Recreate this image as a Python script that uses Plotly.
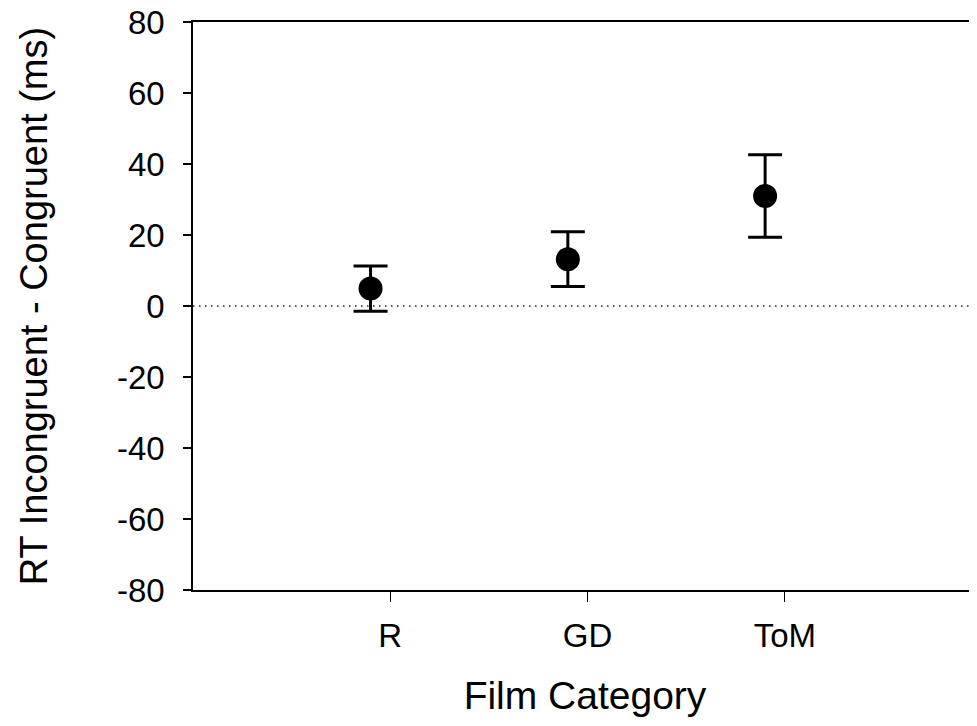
import plotly.graph_objects as go

categories = ["R", "GD", "ToM"]
tick_pos = [1, 2, 3]
point_pos = [0.9, 1.9, 2.9]
means = [4.9, 13.2, 31.0]
errors = [6.4, 7.7, 11.6]
y_ticks = [-80, -60, -40, -20, 0, 20, 40, 60, 80]
y_tick_text = ["-80", "-60", "-40", "-20", "0", "20", "40", "60", "80"]

fig = go.Figure()
fig.add_trace(go.Scatter(
    x=point_pos, y=means, mode="markers",
    marker=dict(size=24, color="black"),
    error_y=dict(type="data", array=errors, visible=True, color="black",
                 thickness=3, width=17),
    showlegend=False, hoverinfo="skip",
))

fig.add_shape(type="line", xref="paper", yref="y", x0=0, x1=1, y0=0, y1=0,
              line=dict(color="#222222", width=1.3, dash="1.5px,4.5px"), layer="below")

font = "Liberation Sans, Arial, sans-serif"
fig.update_layout(
    width=969, height=718,
    margin=dict(l=185, r=0, t=14, b=136),
    plot_bgcolor="white", paper_bgcolor="white",
    font=dict(family=font, color="black", size=33),
    xaxis=dict(range=[0, 3.974], tickvals=tick_pos, ticktext=categories,
               showline=True, linecolor="black", linewidth=1.5, mirror=True,
               ticks="outside", ticklen=10, tickwidth=1.2, tickcolor="black",
               showgrid=False, zeroline=False, tickfont=dict(size=33),
               ticklabelstandoff=6, automargin=False,
               title=dict(text="Film Category", font=dict(size=39), standoff=28)),
    yaxis=dict(range=[-80, 80], tickvals=y_ticks, ticktext=y_tick_text,
               showline=True, linecolor="black", linewidth=1.5,
               ticks="outside", ticklen=8, tickwidth=1.5, tickcolor="black",
               showgrid=False, zeroline=False, tickfont=dict(size=33),
               ticklabelstandoff=12, ticklabeloverflow="allow", automargin=False,
               title=dict(text="RT Incongruent - Congruent (ms)", font=dict(size=38), standoff=58)),
)

fig.write_html("out.html")
